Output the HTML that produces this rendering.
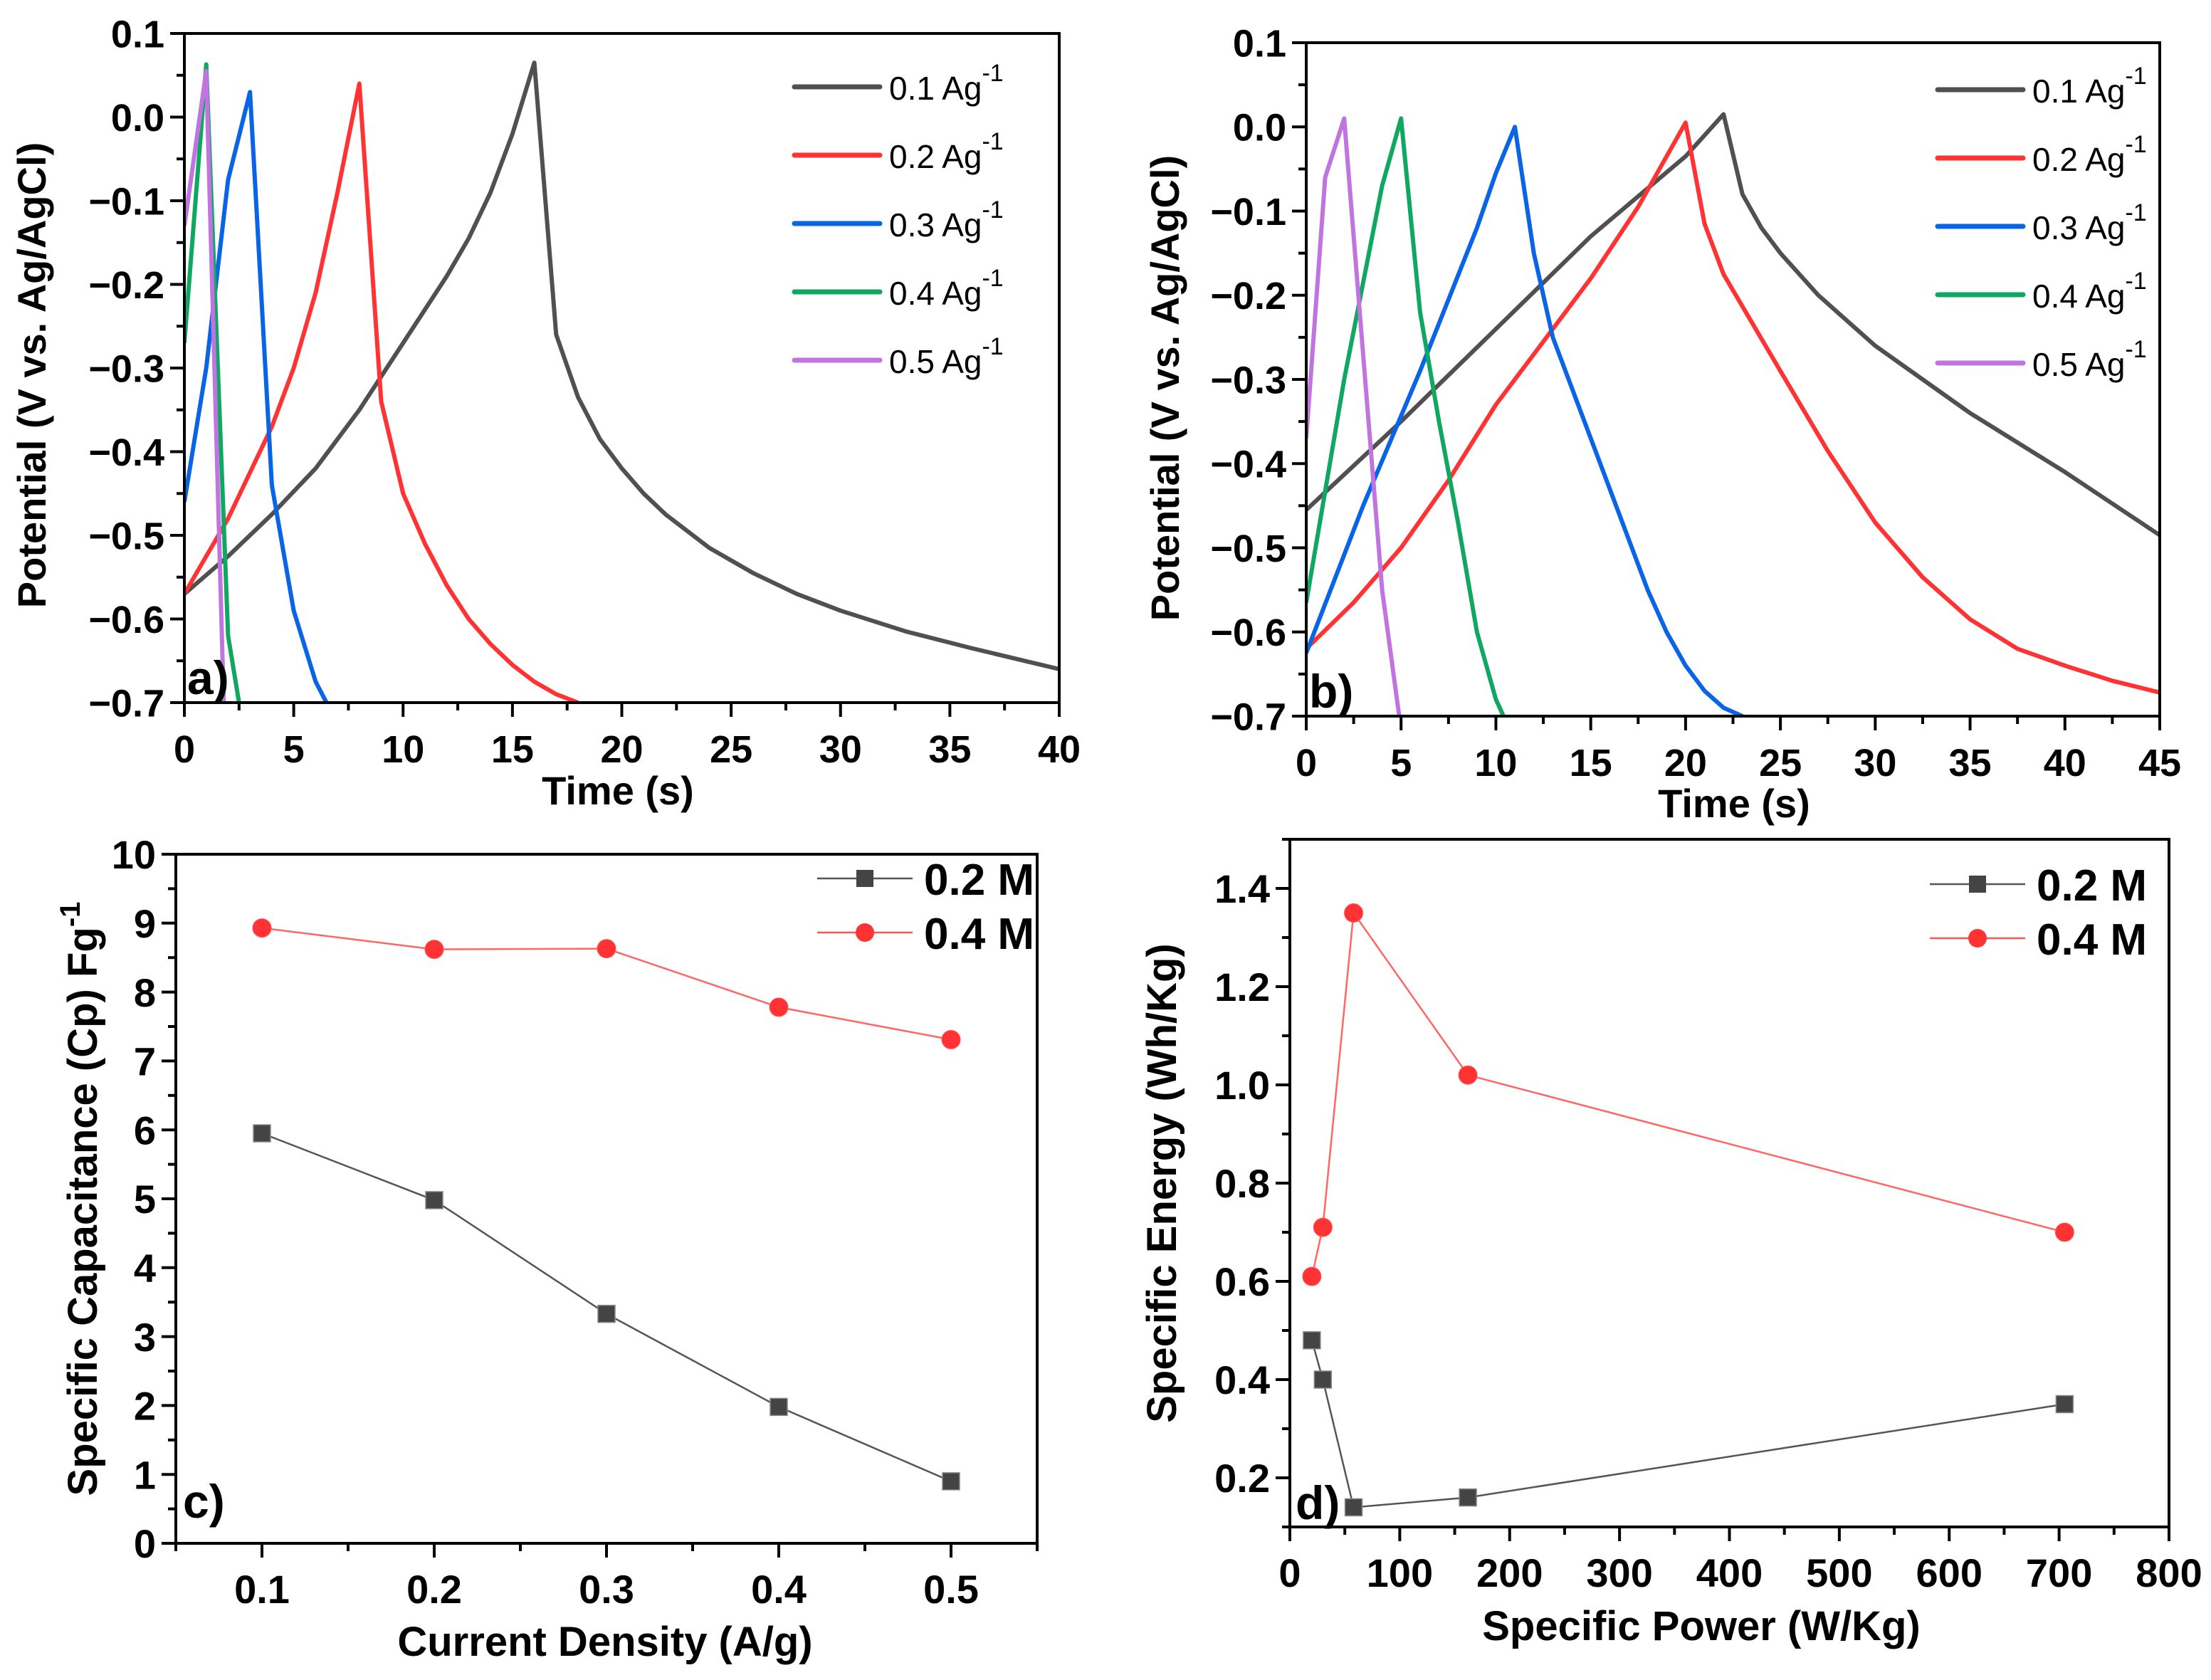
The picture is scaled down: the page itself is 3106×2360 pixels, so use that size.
<!DOCTYPE html>
<html><head><meta charset="utf-8"><style>
html,body{margin:0;padding:0;background:#fff;}
svg{display:block;font-family:"Liberation Sans",Arial,sans-serif;}
</style></head><body>
<svg id="fig" width="3106" height="2360" viewBox="0 0 3106 2360" xmlns="http://www.w3.org/2000/svg">
<rect width="3106" height="2360" fill="#ffffff"/>
</svg>
<script>
// ---------- Panel a data ----------
const aT01=[0,2,4,6,8,10,12,13,14,15,16,17,18,19,20,21,22,24,26,28,30,33,36,40];
const aV01=[-0.57,-0.525,-0.475,-0.42,-0.35,-0.27,-0.19,-0.145,-0.09,-0.02,0.065,-0.26,-0.335,-0.385,-0.42,-0.45,-0.475,-0.515,-0.545,-0.57,-0.59,-0.615,-0.635,-0.66];
const aT02=[0,2,4,5,6,7,8,9,10,11,12,13,14,15,16,17,18];
const aV02=[-0.57,-0.48,-0.37,-0.3,-0.21,-0.09,0.04,-0.34,-0.45,-0.51,-0.56,-0.6,-0.63,-0.655,-0.675,-0.69,-0.7];
const aT03=[0,1,2,3,4,5,6,6.5];
const aV03=[-0.46,-0.3,-0.075,0.03,-0.44,-0.59,-0.675,-0.7];
const aT04=[0,1,2,2.5];
const aV04=[-0.27,0.063,-0.62,-0.7];
const aT05=[0,1,1.8];
const aV05=[-0.13,0.055,-0.7];
// ---------- Panel b data ----------
const bT01=[0,5,10,15,20,22,23,24,25,27,30,32.5,35,40,45];
const bV01=[-0.455,-0.35,-0.24,-0.13,-0.035,0.015,-0.08,-0.12,-0.15,-0.2,-0.26,-0.3,-0.34,-0.41,-0.485];
const bT02=[0,2.5,5,7.5,10,12.5,15,17.5,20,21,22,25,27.5,30,32.5,35,37.5,40,42.5,45];
const bV02=[-0.62,-0.565,-0.5,-0.42,-0.33,-0.255,-0.18,-0.095,0.005,-0.115,-0.175,-0.29,-0.385,-0.47,-0.535,-0.585,-0.62,-0.64,-0.658,-0.672];
const bT03=[0,3,6,9,10,11,12,13,15,17,18,19,20,21,22,23];
const bV03=[-0.625,-0.45,-0.29,-0.12,-0.055,0.0,-0.15,-0.25,-0.37,-0.49,-0.55,-0.6,-0.64,-0.67,-0.69,-0.7];
const bT04=[0,2,4,5,6,7,8,9,10,10.4];
const bV04=[-0.565,-0.3,-0.07,0.01,-0.22,-0.35,-0.47,-0.6,-0.68,-0.7];
const bT05=[0,1,2,3,4,4.9];
const bV05=[-0.37,-0.06,0.01,-0.27,-0.55,-0.7];
// ---------- Panel c data ----------
const cX=[0.1,0.2,0.3,0.4,0.5];
const cY02=[5.95,4.98,3.33,1.98,0.9];
const cY04=[8.93,8.62,8.63,7.78,7.31];
// ---------- Panel d data ----------
const dX=[20,30,58,162,705];
const dY02=[0.48,0.40,0.14,0.16,0.35];
const dY04=[0.61,0.71,1.35,1.02,0.70];
const legendLabels=["0.1","0.2","0.3","0.4","0.5"];
const colors=["#505050","#ff3333","#0a64e6","#10a860","#c074e0"];

const NS="http://www.w3.org/2000/svg";
const svg=document.getElementById('fig');
function el(tag,attrs,parent,text){
  const e=document.createElementNS(NS,tag);
  for(const k in attrs)e.setAttribute(k,attrs[k]);
  if(text!==undefined)e.textContent=text;
  (parent||svg).appendChild(e);return e;
}
function scale(d0,d1,r0,r1){return v=>r0+(v-d0)/(d1-d0)*(r1-r0);}

function axes(g,P,sx,sy,xt,yt,fs){
  const f=el('rect',{x:P.x0,y:P.y0,width:P.x1-P.x0,height:P.y1-P.y0,fill:'none',stroke:'#000','stroke-width':4},g);
  
  for(let v=xt.min;v<=xt.max+1e-9;v+=xt.minor){
    const vv=Math.round(v*1000)/1000;
    const major=Math.abs(vv/xt.major-Math.round(vv/xt.major))<1e-6;
    const X=sx(vv);
    const t=el('line',{x1:X,x2:X,y1:P.y1,y2:P.y1+(major?20:11),stroke:'#000','stroke-width':4},g);
    
    if(major && (!xt.labelMin||vv>=xt.labelMin-1e-9)&&(!xt.labelMax||vv<=xt.labelMax+1e-9)){
      const tx=el('text',{x:X,y:P.y1+84,'text-anchor':'middle','font-size':fs,'font-weight':'bold'},g,xt.fmt(vv));
      
    }
  }
  for(let v=yt.min;v<=yt.max+1e-9;v+=yt.minor){
    const vv=Math.round(v*1000)/1000;
    const major=Math.abs(vv/yt.major-Math.round(vv/yt.major))<1e-6;
    const Y=sy(vv);
    const t=el('line',{x1:P.x0,x2:P.x0-(major?20:11),y1:Y,y2:Y,stroke:'#000','stroke-width':4},g);
    
    if(major && (yt.labelMin===undefined||vv>=yt.labelMin-1e-9)){
      const ty=el('text',{x:P.x0-28,y:Y+fs*0.36,'text-anchor':'end','font-size':fs,'font-weight':'bold'},g,yt.fmt(vv));
      
    }
  }
}
function title(g,x,y,fs,rot,name){
  const t=el('text',{x:x,y:y,'text-anchor':'middle','font-size':fs,'font-weight':'bold',transform:rot?`rotate(-90 ${x} ${y})`:''},g);
  
  return t;
}

function gcdPanel(id,P,xmax,series,legX,legY0,label){
  const g=el('g',{},svg);
  
  const sx=scale(0,xmax,P.x0,P.x1), sy=scale(0.1,-0.7,P.y0,P.y1);
  const clip=el('clipPath',{id:id+'-clip'},g);
  el('rect',{x:P.x0,y:P.y0,width:P.x1-P.x0,height:P.y1-P.y0},clip);
  series.forEach((s,i)=>{
    const d=s[0].map((t,j)=>(j?'L':'M')+sx(t).toFixed(1)+','+sy(s[1][j]).toFixed(1)).join(' ');
    const p=el('path',{d:d,fill:'none',stroke:colors[i],'stroke-width':6,'stroke-linejoin':'round','clip-path':`url(#${id}-clip)`},g);
    
    
  });
  axes(g,P,sx,sy,{min:0,max:xmax,major:5,minor:2.5,fmt:v=>String(v)},
       {min:-0.7,max:0.1,major:0.1,minor:0.05,fmt:v=>Math.abs(v)<1e-9?'0.0':(v<0?'−':'')+Math.abs(v).toFixed(1)},54);
  const lg=el('g',{},g);
  
  legendLabels.forEach((l,i)=>{
    const y=legY0+i*96;
    const ln=el('line',{x1:legX,x2:legX+120,y1:y,y2:y,stroke:colors[i],'stroke-width':7,'stroke-linecap':'round'},lg);
    
    const t=el('text',{x:legX+133,y:y+18,'font-size':46},lg);
    
    el('tspan',{},t,l+' Ag');
    el('tspan',{dy:-26,'font-size':34},t,'-1');
  });
  const lb=el('text',{x:P.x0+4,y:P.y1-12,'font-size':66,'font-weight':'bold'},g,label);
  
  return {g,sx,sy};
}
const A={x0:259,x1:1488,y0:47,y1:987};
const pa=gcdPanel('panel-a',A,40,[[aT01,aV01],[aT02,aV02],[aT03,aV03],[aT04,aV04],[aT05,aV05]],1116,122,'a)');
title(pa.g,868,1130,56,false,'x-axis-title').textContent='Time (s)';
title(pa.g,64,(A.y0+A.y1)/2+10,56,true,'y-axis-title').textContent='Potential (V vs. Ag/AgCl)';

const B={x0:1835,x1:3034,y0:60,y1:1006};
const pb=gcdPanel('panel-b',B,45,[[bT01,bV01],[bT02,bV02],[bT03,bV03],[bT04,bV04],[bT05,bV05]],2722,126,'b)');
title(pb.g,2436,1148,56,false,'x-axis-title').textContent='Time (s)';
title(pb.g,1656,(B.y0+B.y1)/2+12,56,true,'y-axis-title').textContent='Potential (V vs. Ag/AgCl)';

function markers(g,xs,ys,sx,sy,shape,color,name){
  const d=xs.map((x,j)=>(j?'L':'M')+sx(x).toFixed(1)+','+sy(ys[j]).toFixed(1)).join(' ');
  const p=el('path',{d:d,fill:'none',stroke:color,'stroke-width':2.5},g);
  
  xs.forEach((x,j)=>{
    let m;
    if(shape==='sq') m=el('rect',{x:sx(x)-12,y:sy(ys[j])-12,width:24,height:24,fill:'#444',stroke:'#888','stroke-width':1.5},g);
    else m=el('circle',{cx:sx(x),cy:sy(ys[j]),r:13,fill:'#ff3333',stroke:'#ff5a5a','stroke-width':1},g);
    
  });
}
function legend2(g,x,y0){
  const lg=el('g',{},g);
  
  [['sq','#555','0.2 M'],['ci','#ff5555','0.4 M']].forEach((e,i)=>{
    const y=y0+i*76;
    const ln=el('line',{x1:x,x2:x+134,y1:y,y2:y,stroke:e[1],'stroke-width':2.5},lg);
    
    let m;
    if(e[0]==='sq') m=el('rect',{x:x+55,y:y-12,width:24,height:24,fill:'#444'},lg);
    else m=el('circle',{cx:x+67,cy:y,r:13,fill:'#ff3333'},lg);
    
    const t=el('text',{x:x+150,y:y+23,'font-size':62,'font-weight':'bold'},lg,e[2]);
    
  });
}
// c
const C={x0:247,x1:1457,y0:1200,y1:2168};
const gc=el('g',{},svg);

const csx=scale(0.05,0.55,C.x0,C.x1), csy=scale(0,10,C.y1,C.y0);
axes(gc,C,csx,csy,{min:0.05,max:0.55,major:0.1,minor:0.05,labelMin:0.1,labelMax:0.5,fmt:v=>v.toFixed(1)},
     {min:0,max:10,major:1,minor:0.5,fmt:v=>String(v)},56);
markers(gc,cX,cY02,csx,csy,'sq','#555','series-0-2m');
markers(gc,cX,cY04,csx,csy,'ci','#ff6666','series-0-4m');
legend2(gc,1148,1234);
title(gc,850,2326,58,false,'x-axis-title').textContent='Current Density (A/g)';
{const t=title(gc,136,(C.y0+C.y1)/2,58,true,'y-axis-title');
 el('tspan',{},t,'Specific Capacitance (Cp) Fg');el('tspan',{dy:-24,'font-size':40},t,'-1');}
{const lb=el('text',{x:C.x0+10,y:2132,'font-size':66,'font-weight':'bold'},gc,'c)');}
// d
const D={x0:1812,x1:3047,y0:1179,y1:2145};
const gd=el('g',{},svg);

const dsx=scale(0,800,D.x0,D.x1), dsy=scale(0.1,1.5,D.y1,D.y0);
axes(gd,D,dsx,dsy,{min:0,max:800,major:100,minor:50,fmt:v=>String(v)},
     {min:0.1,max:1.5,major:0.2,minor:0.1,labelMin:0.2,fmt:v=>v.toFixed(1)},56);
markers(gd,dX,dY02,dsx,dsy,'sq','#555','series-0-2m');
markers(gd,dX,dY04,dsx,dsy,'ci','#ff6666','series-0-4m');
legend2(gd,2711,1242);
title(gd,2390,2304,58,false,'x-axis-title').textContent='Specific Power (W/Kg)';
title(gd,1652,(D.y0+D.y1)/2,58,true,'y-axis-title').textContent='Specific Energy (Wh/Kg)';
{const lb=el('text',{x:D.x0+8,y:2134,'font-size':66,'font-weight':'bold'},gd,'d)');}
</script>
</body></html>
